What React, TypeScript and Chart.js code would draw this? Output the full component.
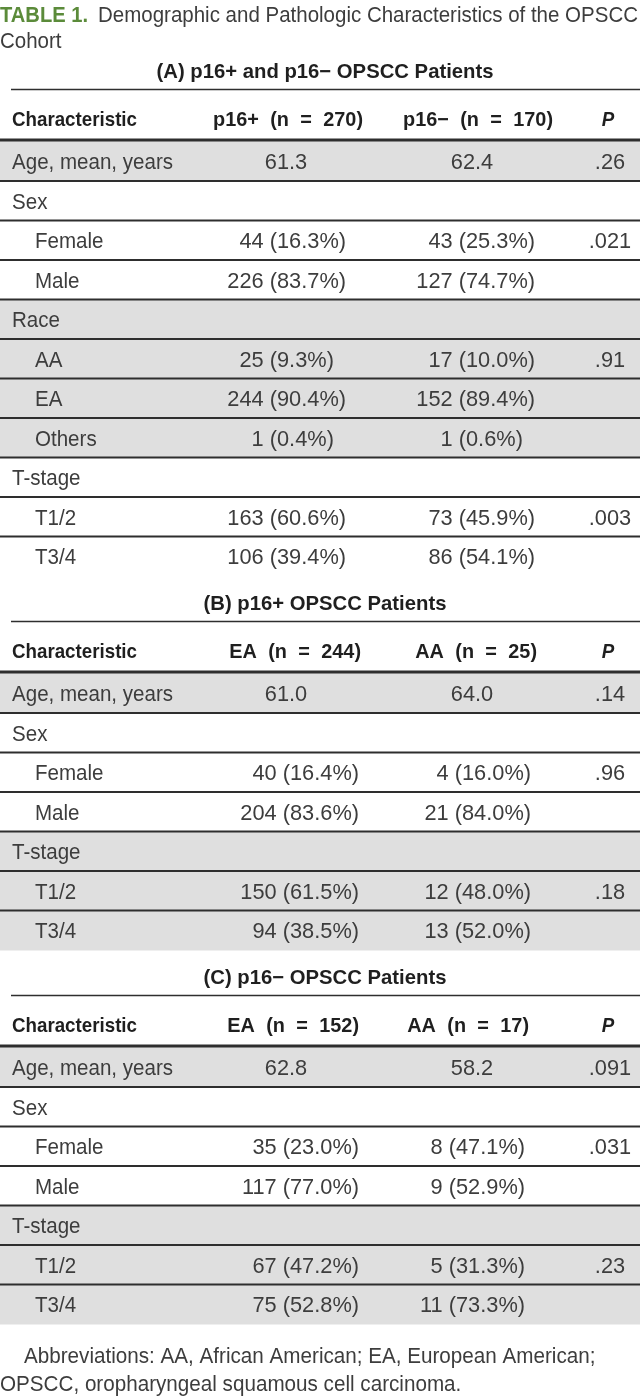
import React, { useEffect, useRef } from "react";
import { Chart, registerables } from "chart.js";
Chart.register(...registerables);

const W = 640;
const H = 1399;

// ---- Text content ----
const tableLabel = "TABLE 1.";
const titleLine1 = "Demographic and Pathologic Characteristics of the OPSCC";
const titleLine2 = "Cohort";
const footLine1 = "Abbreviations: AA, African American; EA, European American;";
const footLine2 = "OPSCC, oropharyngeal squamous cell carcinoma.";
const charHeader = "Characteristic";
const pHeader = "P";

const sectionTitles = [
  "(A) p16+ and p16− OPSCC Patients",
  "(B) p16+ OPSCC Patients",
  "(C) p16− OPSCC Patients",
];
const groupHeadersA = ["p16+ (n = 270)", "p16− (n = 170)"];
const groupHeadersB = ["EA (n = 244)", "AA (n = 25)"];
const groupHeadersC = ["EA (n = 152)", "AA (n = 17)"];

// ---- Section A ----
const labelsA = ["Age, mean, years", "Sex", "Female", "Male", "Race", "AA", "EA", "Others", "T-stage", "T1/2", "T3/4"];
const indentA = [0, 0, 1, 1, 0, 1, 1, 1, 0, 1, 1];
const shadeA = [1, 0, 0, 0, 1, 1, 1, 1, 0, 0, 0];
const meanA = [61.3, 62.4];
const countsA1 = [null, null, 44, 226, null, 25, 244, 1, null, 163, 106];
const pctA1 = [null, null, 16.3, 83.7, null, 9.3, 90.4, 0.4, null, 60.6, 39.4];
const countsA2 = [null, null, 43, 127, null, 17, 152, 1, null, 73, 86];
const pctA2 = [null, null, 25.3, 74.7, null, 10.0, 89.4, 0.6, null, 45.9, 54.1];
const pA = [0.26, null, 0.021, null, null, 0.91, null, null, null, 0.003, null];

// ---- Section B ----
const labelsB = ["Age, mean, years", "Sex", "Female", "Male", "T-stage", "T1/2", "T3/4"];
const indentB = [0, 0, 1, 1, 0, 1, 1];
const shadeB = [1, 0, 0, 0, 1, 1, 1];
const meanB = [61.0, 64.0];
const countsB1 = [null, null, 40, 204, null, 150, 94];
const pctB1 = [null, null, 16.4, 83.6, null, 61.5, 38.5];
const countsB2 = [null, null, 4, 21, null, 12, 13];
const pctB2 = [null, null, 16.0, 84.0, null, 48.0, 52.0];
const pB = [0.14, null, 0.96, null, null, 0.18, null];

// ---- Section C ----
const labelsC = ["Age, mean, years", "Sex", "Female", "Male", "T-stage", "T1/2", "T3/4"];
const indentC = [0, 0, 1, 1, 0, 1, 1];
const shadeC = [1, 0, 0, 0, 1, 1, 1];
const meanC = [62.8, 58.2];
const countsC1 = [null, null, 35, 117, null, 67, 75];
const pctC1 = [null, null, 23.0, 77.0, null, 47.2, 52.8];
const countsC2 = [null, null, 8, 9, null, 5, 11];
const pctC2 = [null, null, 47.1, 52.9, null, 31.3, 73.3];
const pC = [0.091, null, 0.031, null, null, 0.23, null];

const sections = [
  { title: sectionTitles[0], heads: groupHeadersA, labels: labelsA, indent: indentA, shade: shadeA, mean: meanA, counts: [countsA1, countsA2], pcts: [pctA1, pctA2], p: pA },
  { title: sectionTitles[1], heads: groupHeadersB, labels: labelsB, indent: indentB, shade: shadeB, mean: meanB, counts: [countsB1, countsB2], pcts: [pctB1, pctB2], p: pB },
  { title: sectionTitles[2], heads: groupHeadersC, labels: labelsC, indent: indentC, shade: shadeC, mean: meanC, counts: [countsC1, countsC2], pcts: [pctC1, pctC2], p: pC },
];

// ---- Layout (scale units) ----
const ROW_H = 39.5;
const TITLE_Y = [14, 40];
const FIRST_SECTION_TOP = 44;
const SEC_TITLE_DY = 27;
const SEC_RULE_DY = 45.5;
const SEC_HEAD_DY = 74.5;
const SEC_THICK_DY = 96;
const SEC_ROWS_DY = 97.5;
const FOOT_DY = [31, 59];

const LABEL_X = 12;
const INDENT_X = 35;
const RULE_X0 = 11;
const TITLE_TEXT_X = 98;
const FOOT_INDENT_X = 24;
const SEC_TITLE_X = 325;
const MEAN_X = [286, 472];
const VALUE_RIGHT = [[346, 535], [359, 531], [359, 525]];
const HEAD_RIGHT = [[363, 553], [361, 537], [359, 529]];
const P_HEAD_X = 608;
const P_X = 610;

const COLORS = {
  text: "#3d3d3d",
  bold: "#1f1f1f",
  green: "#5b8b3a",
  line: "#2e2e2e",
  shade: "#dfdfdf",
};

function sectionTops(): number[] {
  const tops: number[] = [];
  let t = FIRST_SECTION_TOP;
  sections.forEach((s) => {
    tops.push(t);
    t = t + SEC_ROWS_DY + s.labels.length * ROW_H;
  });
  tops.push(t);
  return tops;
}

function shadeBars() {
  const tops = sectionTops();
  const out: { x: number[]; y: number }[] = [];
  sections.forEach((s, si) => {
    s.shade.forEach((v, i) => {
      if (v) out.push({ x: [0, W], y: tops[si] + SEC_ROWS_DY + i * ROW_H + ROW_H / 2 });
    });
  });
  return out;
}

type Style = { font: string; sx: number; ws?: number };

function makeStyle(ctx: CanvasRenderingContext2D, font: string, ref: string, target: number): Style {
  ctx.save();
  ctx.font = font;
  const w = ctx.measureText(ref).width;
  ctx.restore();
  return { font, sx: w > 0 ? target / w : 1 };
}

function textW(ctx: CanvasRenderingContext2D, st: Style, t: string) {
  ctx.save();
  ctx.font = st.font;
  const w = ctx.measureText(t).width * st.sx;
  ctx.restore();
  return w;
}

function drawText(ctx: CanvasRenderingContext2D, st: Style, t: string, x: number, y: number, align: CanvasTextAlign, color: string) {
  ctx.save();
  ctx.font = st.font;
  ctx.fillStyle = color;
  ctx.textBaseline = "alphabetic";
  ctx.translate(x, y);
  ctx.scale(st.sx, 1);
  if (st.ws) {
    // manual word spacing: draw words one by one
    const words = t.split(" ");
    const space = ctx.measureText(" ").width + st.ws;
    const widths = words.map((w) => ctx.measureText(w).width);
    const total = widths.reduce((a, b) => a + b, 0) + space * (words.length - 1);
    let cx = align === "right" ? -total : align === "center" ? -total / 2 : 0;
    ctx.textAlign = "left";
    words.forEach((w, i) => {
      ctx.fillText(w, cx, 0);
      cx += widths[i] + space;
    });
  } else {
    ctx.textAlign = align;
    ctx.fillText(t, 0, 0);
  }
  ctx.restore();
}

function hline(ctx: CanvasRenderingContext2D, x0: number, x1: number, y: number, w: number) {
  ctx.save();
  ctx.strokeStyle = COLORS.line;
  ctx.lineWidth = w;
  ctx.beginPath();
  ctx.moveTo(x0, y);
  ctx.lineTo(x1, y);
  ctx.stroke();
  ctx.restore();
}

const fmtP = (v: number) => String(v).replace(/^0/, "");

const tablePlugin = {
  id: "tableText",
  afterDatasetsDraw(chart: any) {
    const ctx: CanvasRenderingContext2D = chart.ctx;
    const xs = chart.scales.x;
    const ys = chart.scales.y;
    const px = (v: number) => xs.getPixelForValue(v);
    const py = (v: number) => ys.getPixelForValue(v);

    const FAM = '"Liberation Sans", Arial, sans-serif';
    const REG = `22px ${FAM}`;
    const BOLD = `bold 20.5px ${FAM}`;
    const BOLDI = `italic bold 20.5px ${FAM}`;
    const reg = makeStyle(ctx, REG, "Age, mean, years", 161);
    const num = { font: REG, sx: reg.sx * 1.06 };
    const bold = makeStyle(ctx, BOLD, "Characteristic", 125);
    const secSt = makeStyle(ctx, BOLD, sectionTitles[0], 337);
    const headSt = { font: BOLD, sx: bold.sx * 1.06, ws: 6 };
    const boldI = { font: BOLDI, sx: bold.sx };
    const green = makeStyle(ctx, `bold 21.5px ${FAM}`, tableLabel, 88);
    const titleSt = makeStyle(ctx, REG, titleLine1, 540);
    const footSt = { font: REG, sx: reg.sx * 1.005 };
    const regOff = 7.8;
    const boldOff = 7.3;

    // Title
    drawText(ctx, green, tableLabel, px(0), py(TITLE_Y[0]) + regOff, "left", COLORS.green);
    drawText(ctx, titleSt, titleLine1, px(TITLE_TEXT_X), py(TITLE_Y[0]) + regOff, "left", COLORS.text);
    drawText(ctx, titleSt, titleLine2, px(0), py(TITLE_Y[1]) + regOff, "left", COLORS.text);

    const tops = sectionTops();
    sections.forEach((s, si) => {
      const E = tops[si];
      drawText(ctx, secSt, s.title, px(SEC_TITLE_X), py(E + SEC_TITLE_DY) + boldOff, "center", COLORS.bold);
      hline(ctx, px(RULE_X0), px(W), py(E + SEC_RULE_DY), 1.5);
      const hy = py(E + SEC_HEAD_DY) + boldOff;
      drawText(ctx, bold, charHeader, px(LABEL_X), hy, "left", COLORS.bold);
      drawText(ctx, headSt, s.heads[0], px(HEAD_RIGHT[si][0]), hy, "right", COLORS.bold);
      drawText(ctx, headSt, s.heads[1], px(HEAD_RIGHT[si][1]), hy, "right", COLORS.bold);
      drawText(ctx, boldI, pHeader, px(P_HEAD_X), hy, "center", COLORS.bold);
      hline(ctx, px(0), px(W), py(E + SEC_THICK_DY), 3);

      const refW = textW(ctx, num, "(00.0%)");
      s.labels.forEach((lab, i) => {
        const top = E + SEC_ROWS_DY + i * ROW_H;
        const cy = py(top + ROW_H / 2) + regOff;
        if (i > 0) hline(ctx, px(0), px(W), py(top), 2);
        drawText(ctx, reg, lab, px(s.indent[i] ? INDENT_X : LABEL_X), cy, "left", COLORS.text);
        if (i === 0) {
          drawText(ctx, num, s.mean[0].toFixed(1), px(MEAN_X[0]), cy, "center", COLORS.text);
          drawText(ctx, num, s.mean[1].toFixed(1), px(MEAN_X[1]), cy, "center", COLORS.text);
        }
        for (let c = 0; c < 2; c++) {
          const n = s.counts[c][i];
          const pc = s.pcts[c][i];
          if (n !== null && pc !== null) {
            const paren = px(VALUE_RIGHT[si][c]) - refW;
            drawText(ctx, num, `${n} `, paren, cy, "right", COLORS.text);
            drawText(ctx, num, `(${(pc as number).toFixed(1)}%)`, paren, cy, "left", COLORS.text);
          }
        }
        const pv = s.p[i];
        if (pv !== null) drawText(ctx, num, fmtP(pv as number), px(P_X), cy, "center", COLORS.text);
      });
    });

    const end = tops[sections.length];
    drawText(ctx, footSt, footLine1, px(FOOT_INDENT_X), py(end + FOOT_DY[0]) + regOff, "left", COLORS.text);
    drawText(ctx, footSt, footLine2, px(0), py(end + FOOT_DY[1]) + regOff, "left", COLORS.text);
  },
};

export default function App() {
  const ref = useRef<HTMLCanvasElement>(null);
  useEffect(() => {
    document.body.style.margin = "0";
    const chart = new Chart(ref.current as HTMLCanvasElement, {
      type: "bar",
      data: {
        datasets: [
          {
            data: shadeBars() as any,
            backgroundColor: COLORS.shade,
            borderWidth: 0,
            barThickness: ROW_H + 0.5,
          } as any,
        ],
      },
      options: {
        indexAxis: "y",
        responsive: true,
        maintainAspectRatio: false,
        animation: false,
        events: [],
        layout: { padding: 0 },
        plugins: { legend: { display: false }, tooltip: { enabled: false } },
        scales: {
          x: { type: "linear", min: 0, max: W, display: false, offset: false },
          y: { type: "linear", min: 0, max: H, reverse: true, display: false, offset: false },
        },
      },
      plugins: [tablePlugin],
    });
    return () => chart.destroy();
  }, []);
  return (
    <div style={{ width: W, height: H, position: "relative", background: "#fff" }}>
      <canvas ref={ref} />
    </div>
  );
}
